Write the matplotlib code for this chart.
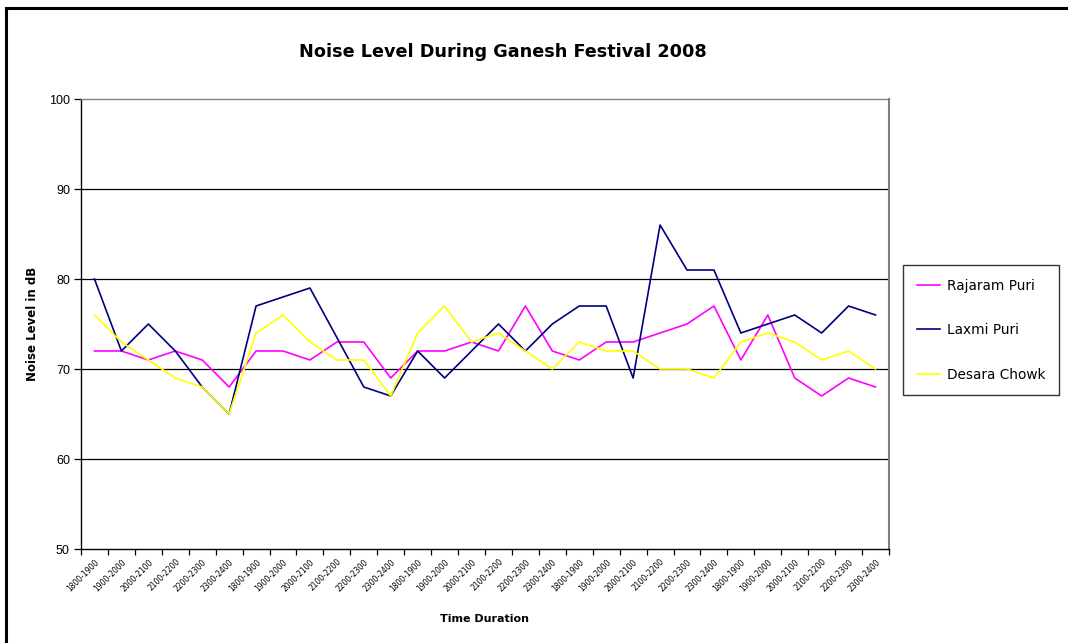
import matplotlib
matplotlib.use("Agg")
import matplotlib.pyplot as plt
from matplotlib.lines import Line2D

slots = ["1800-1900", "1900-2000", "2000-2100", "2100-2200", "2200-2300", "2300-2400"]
categories = slots * 5

rajaram_puri = [72, 72, 71, 72, 71, 68, 72, 72, 71, 73, 73, 69, 72, 72, 73,
                72, 77, 72, 71, 73, 73, 74, 75, 77, 71, 76, 69, 67, 69, 68]
laxmi_puri = [80, 72, 75, 72, 68, 65, 77, 78, 79, 73.5, 68, 67, 72, 69, 72,
              75, 72, 75, 77, 77, 69, 86, 81, 81, 74, 75, 76, 74, 77, 76]
desara_chowk = [76, 73, 71, 69, 68, 65, 74, 76, 73, 71, 71, 67, 74, 77, 73,
                74, 72, 70, 73, 72, 72, 70, 70, 69, 73, 74, 73, 71, 72, 70]

series = [("Rajaram Puri", rajaram_puri, "#FF00FF"),
          ("Laxmi Puri", laxmi_puri, "#000080"),
          ("Desara Chowk", desara_chowk, "#FFFF00")]

W, H = 1068, 643
fig = plt.figure(figsize=(W / 100, H / 100), dpi=100)
ax = fig.add_axes([81 / W, 1 - 549 / H, (889 - 81) / W, (549 - 99) / H])

x = list(range(len(categories)))
handles = []
for name, vals, col in series:
    ln, = ax.plot(x, vals, color=col, lw=1.2, label=name, zorder=3)
    handles.append(ln)

ax.set_xlim(-0.5, len(categories) - 0.5)
ax.set_ylim(50, 100)
ax.set_yticks([50, 60, 70, 80, 90, 100])
ax.set_yticklabels(["50", "60", "70", "80", "90", "100"],
                   fontsize=9, family="Liberation Sans")
for yv in [60, 70, 80, 90]:
    ax.axhline(yv, color="black", lw=0.9, zorder=1)

ax.set_xticks(x)
ax.set_xticklabels(categories, rotation=45, ha="right",
                   rotation_mode="anchor", fontsize=5.5, family="DejaVu Sans")
ax.tick_params(axis="x", length=0, pad=6)
ax.set_xticks([i - 0.5 for i in range(len(categories) + 1)], minor=True)
ax.tick_params(axis="x", which="minor", length=4, width=0.9, direction="out")
ax.tick_params(axis="y", length=5, width=0.9, direction="out", pad=3)

ax.spines["left"].set_color("black")
ax.spines["bottom"].set_color("black")
ax.spines["left"].set_linewidth(1.0)
ax.spines["bottom"].set_linewidth(1.0)
ax.spines["top"].set_color("#808080")
ax.spines["right"].set_color("#808080")
ax.spines["top"].set_linewidth(1.0)
ax.spines["right"].set_linewidth(1.5)

ax.set_ylabel("Noise Level in dB", fontsize=8.5, fontweight="bold", labelpad=7)
ax.set_xlabel("Time Duration", fontsize=8, fontweight="bold", labelpad=15)

fig.text(503 / W, 1 - 52 / H, "Noise Level During Ganesh Festival 2008",
         ha="center", va="center", fontsize=12.7, fontweight="bold")

leg = fig.legend(handles=handles, labels=[s[0] for s in series],
                 loc="upper left", bbox_to_anchor=(903 / W, 1 - 265 / H),
                 frameon=True, fancybox=False, edgecolor="black",
                 fontsize=9.8, labelspacing=2.25, handlelength=1.75,
                 handletextpad=0.45, borderpad=1.0, borderaxespad=0)
leg.get_frame().set_linewidth(1.0)

# outer chart border (top and left visible)
fig.add_artist(Line2D([6 / W, 6 / W], [1 - 8 / H, 0], transform=fig.transFigure,
                      color="black", lw=2.2))
fig.add_artist(Line2D([6 / W, 1], [1 - 8 / H, 1 - 8 / H], transform=fig.transFigure,
                      color="black", lw=2.2))

fig.savefig("out.png", dpi=100)
